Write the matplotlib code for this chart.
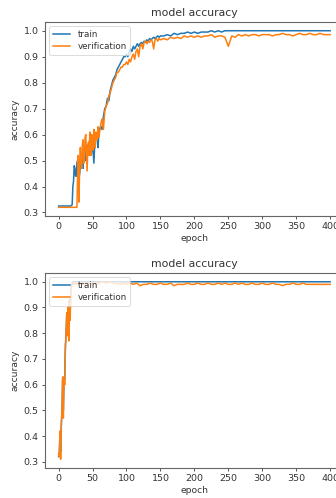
import numpy as np
import matplotlib
matplotlib.use("Agg")
import matplotlib.pyplot as plt

# ---- top run: sampled densely where training is noisy, coarser afterwards
top_epochs = np.concatenate([
    np.arange(0, 19, 2),
    np.arange(20, 61, 1),
    np.arange(62, 151, 2),
    np.arange(155, 401, 5),
])

top_train = [
    # 0-18
    0.325, 0.325, 0.325, 0.325, 0.325, 0.325, 0.325, 0.325, 0.325, 0.325,
    # 20-60
    0.33, 0.40, 0.42, 0.48, 0.47, 0.44, 0.44, 0.49, 0.50, 0.46,
    0.43, 0.45, 0.48, 0.51, 0.52, 0.49, 0.47, 0.53, 0.55, 0.52,
    0.50, 0.54, 0.56, 0.55, 0.53, 0.57, 0.58, 0.55, 0.52, 0.55,
    0.57, 0.53, 0.49, 0.55, 0.58, 0.59, 0.60, 0.58, 0.55, 0.59,
    0.62,
    # 62-150
    0.63, 0.62, 0.67, 0.70, 0.71, 0.74, 0.73, 0.77, 0.79, 0.81,
    0.82, 0.83, 0.85, 0.86, 0.87, 0.88, 0.89, 0.90, 0.90, 0.91,
    0.90, 0.92, 0.93, 0.92, 0.94, 0.93, 0.94, 0.95, 0.94, 0.95,
    0.955, 0.95, 0.96, 0.955, 0.965, 0.96, 0.97, 0.965, 0.97, 0.975,
    0.97, 0.975, 0.98, 0.975, 0.98,
    # 155-400
    0.98, 0.985, 0.98, 0.99, 0.985, 0.99, 0.99, 0.995, 0.99, 0.995,
    0.99, 0.995, 0.995, 0.995, 1.0, 0.995, 1.0, 0.995, 1.0, 1.0,
    1.0, 1.0, 1.0, 1.0, 1.0, 1.0, 1.0, 1.0, 1.0, 1.0,
    1.0, 1.0, 1.0, 1.0, 1.0, 1.0, 1.0, 1.0, 1.0, 1.0,
    1.0, 1.0, 1.0, 1.0, 1.0, 1.0, 1.0, 1.0, 1.0, 1.0,
]

top_val = [
    # 0-18
    0.32, 0.32, 0.32, 0.32, 0.32, 0.32, 0.32, 0.32, 0.32, 0.32,
    # 20-60
    0.32, 0.32, 0.32, 0.32, 0.32, 0.32, 0.32, 0.32, 0.45, 0.52,
    0.34, 0.48, 0.55, 0.50, 0.47, 0.56, 0.58, 0.49, 0.50, 0.59,
    0.60, 0.53, 0.46, 0.55, 0.57, 0.52, 0.61, 0.56, 0.52, 0.60,
    0.58, 0.54, 0.62, 0.57, 0.55, 0.61, 0.60, 0.58, 0.63, 0.59,
    0.60,
    # 62-150
    0.64, 0.66, 0.62, 0.69, 0.71, 0.72, 0.75, 0.76, 0.78, 0.80,
    0.81, 0.82, 0.84, 0.84, 0.85, 0.86, 0.86, 0.87, 0.87, 0.88,
    0.87, 0.89, 0.88, 0.90, 0.91, 0.89, 0.92, 0.93, 0.90, 0.94,
    0.95, 0.93, 0.955, 0.96, 0.95, 0.96, 0.955, 0.965, 0.96, 0.93,
    0.965, 0.97, 0.96, 0.97, 0.965,
    # 155-400
    0.97, 0.965, 0.975, 0.97, 0.975, 0.97, 0.98, 0.975, 0.98, 0.975,
    0.98, 0.975, 0.98, 0.98, 0.985, 0.975, 0.98, 0.98, 0.975, 0.94,
    0.98, 0.975, 0.985, 0.98, 0.985, 0.98, 0.985, 0.985, 0.98, 0.985,
    0.985, 0.985, 0.98, 0.985, 0.985, 0.99, 0.985, 0.985, 0.98, 0.985,
    0.99, 0.985, 0.985, 0.99, 0.985, 0.985, 0.99, 0.985, 0.985, 0.985,
]

# ---- bottom run: converges within ~20 epochs
bot_epochs = np.concatenate([np.arange(0, 31, 1), np.arange(35, 401, 5)])

bot_train = [
    0.32, 0.33, 0.40, 0.34, 0.44, 0.50, 0.62, 0.50, 0.63, 0.62,
    0.75, 0.80, 0.87, 0.81, 0.90, 0.80, 0.93, 0.88, 0.97, 0.985,
    0.995, 1.0, 1.0, 1.0, 1.0, 1.0, 1.0, 1.0, 1.0, 1.0, 1.0,
] + [1.0] * 74

bot_val = [
    0.33, 0.32, 0.42, 0.31, 0.45, 0.50, 0.63, 0.47, 0.63, 0.60,
    0.74, 0.80, 0.88, 0.79, 0.90, 0.77, 0.92, 0.85, 0.96, 0.98,
    0.99, 0.995, 0.99, 0.995, 0.99, 0.995, 0.995, 0.99, 0.995, 0.99, 0.995,
    # 35-400
    0.995, 0.99, 0.995, 0.995, 0.99, 0.995, 1.0, 0.995, 1.0, 0.995,
    0.995, 0.99, 0.995, 0.99, 0.995, 0.99, 0.995, 0.985, 0.99, 0.99,
    0.995, 0.99, 0.99, 0.995, 0.99, 0.99, 0.995, 0.985, 0.99, 0.99,
    0.99, 0.995, 0.99, 0.99, 0.995, 0.99, 0.99, 0.995, 0.99, 0.99,
    0.995, 0.99, 0.995, 0.99, 0.99, 0.995, 0.99, 0.995, 0.99, 0.99,
    0.995, 0.99, 0.99, 0.995, 0.99, 0.99, 0.995, 0.99, 0.99, 0.985,
    0.99, 0.99, 0.995, 0.99, 0.99, 0.995, 0.99, 0.99, 0.99, 0.99,
    0.99, 0.99, 0.99, 0.99,
]

xticks = [0, 50, 100, 150, 200, 250, 300, 350, 400]
yticks = [0.3, 0.4, 0.5, 0.6, 0.7, 0.8, 0.9, 1.0]

plt.rcParams['font.size'] = 6.8
plt.rcParams['text.color'] = '#333333'
plt.rcParams['axes.labelcolor'] = '#333333'
plt.rcParams['xtick.color'] = '#555555'
plt.rcParams['ytick.color'] = '#555555'
plt.rcParams['xtick.labelcolor'] = '#333333'
plt.rcParams['ytick.labelcolor'] = '#333333'
plt.rcParams['axes.edgecolor'] = '#666666'

fig = plt.figure(figsize=(3.36, 4.98), dpi=100)
ax1 = fig.add_axes([0.134, 0.566, 0.889, 0.390])
ax2 = fig.add_axes([0.134, 0.060, 0.889, 0.392])

for ax, ep, tr, va in [(ax1, top_epochs, top_train, top_val),
                       (ax2, bot_epochs, bot_train, bot_val)]:
    ax.plot(ep, tr, color='#1f77b4', lw=1.1, label='train')
    ax.plot(ep, va, color='#ff7f0e', lw=1.1, label='verification')
    ax.set_title('model accuracy', fontsize=7.8, pad=4)
    ax.set_ylabel('accuracy', fontsize=6.6, labelpad=3)
    ax.set_xlabel('epoch', fontsize=6.6, labelpad=2)
    ax.set_xticks(xticks)
    ax.set_yticks(yticks)
    ax.tick_params(length=2.5, width=0.7, pad=2)
    leg = ax.legend(loc='upper left', fontsize=6.3, handlelength=2.0,
                    borderpad=0.4, labelspacing=0.4)
    leg.get_frame().set_linewidth(0.6)

fig.savefig('out.png', dpi=100)
